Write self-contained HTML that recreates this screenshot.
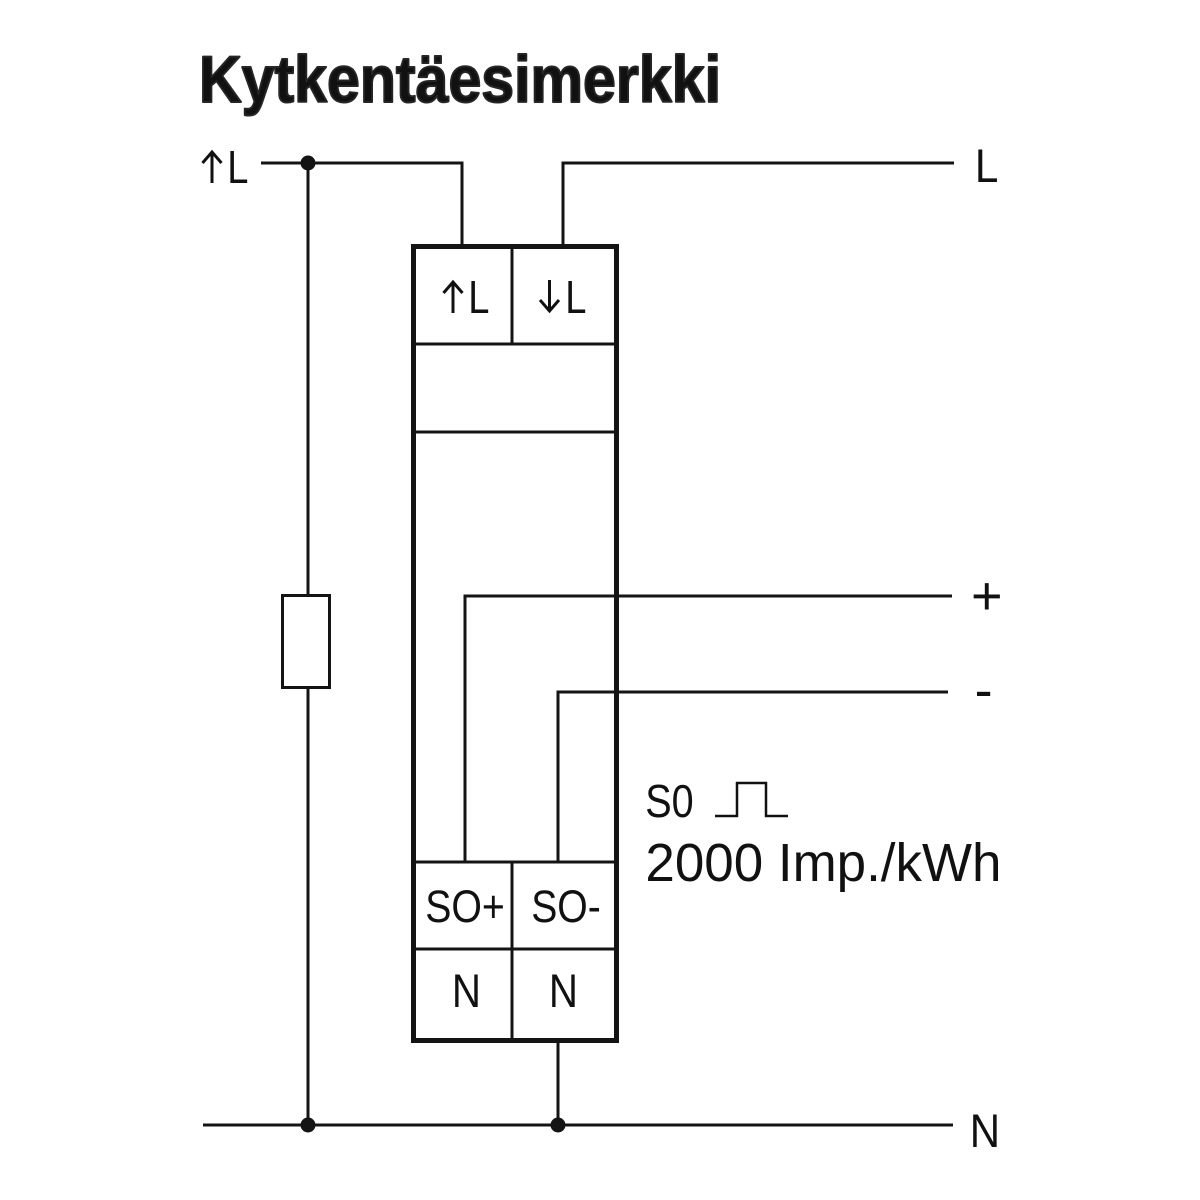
<!DOCTYPE html>
<html>
<head>
<meta charset="utf-8">
<style>
  html, body { margin: 0; padding: 0; background: #ffffff; }
  body { width: 1200px; height: 1200px; overflow: hidden; }
  svg { display: block; }
  .t { font-family: "Liberation Sans", Arial, sans-serif; fill: #111; }
</style>
</head>
<body>
<svg width="1200" height="1200" viewBox="0 0 1200 1200" xmlns="http://www.w3.org/2000/svg">
  <rect x="0" y="0" width="1200" height="1200" fill="#ffffff"/>

  <!-- Title -->
  <text class="t" x="199" y="102" font-size="65.6" font-weight="bold" fill="#262626" stroke="#262626" stroke-width="2" stroke-linejoin="round" textLength="522" lengthAdjust="spacingAndGlyphs">Kytkentäesimerkki</text>

  <g stroke="#141414" stroke-width="3" fill="none" stroke-linecap="butt">
    <!-- top left L wire -->
    <polyline points="261,163 462,163 462,246"/>
    <!-- top right L wire -->
    <polyline points="563,246 563,163 954,163"/>
    <!-- left vertical through resistor -->
    <line x1="308" y1="163" x2="308" y2="1125"/>
    <!-- bottom N line -->
    <line x1="203" y1="1125" x2="953" y2="1125"/>
    <!-- N from box bottom -->
    <line x1="558" y1="1041" x2="558" y2="1125"/>
    <!-- SO+ wire -->
    <polyline points="465,862 465,596 952,596"/>
    <!-- SO- wire -->
    <polyline points="558,862 558,692 948,692"/>
  </g>

  <!-- Resistor -->
  <rect x="282.5" y="595.5" width="47" height="92" fill="#ffffff" stroke="#141414" stroke-width="3"/>

  <!-- Junction dots -->
  <circle cx="308" cy="163" r="7.5" fill="#141414"/>
  <circle cx="308" cy="1125" r="7.5" fill="#141414"/>
  <circle cx="558" cy="1125" r="7.5" fill="#141414"/>

  <!-- Meter box -->
  <g stroke="#141414" fill="none">
    <rect x="413.5" y="246.5" width="203" height="794" stroke-width="5"/>
    <line x1="415" y1="344" x2="615" y2="344" stroke-width="3"/>
    <line x1="512" y1="248" x2="512" y2="344" stroke-width="3"/>
    <line x1="415" y1="432" x2="615" y2="432" stroke-width="3"/>
    <line x1="415" y1="862" x2="615" y2="862" stroke-width="3"/>
    <line x1="512" y1="862" x2="512" y2="1039" stroke-width="3"/>
    <line x1="415" y1="949" x2="615" y2="949" stroke-width="3"/>
  </g>

  <!-- Arrows -->
  <g stroke="#111" stroke-width="3" fill="none" stroke-linecap="butt" stroke-linejoin="miter">
    <line x1="212" y1="152" x2="212" y2="183"/>
    <polyline points="202.5,163 212,152 221.5,163"/>
    <line x1="453" y1="282" x2="453" y2="313"/>
    <polyline points="443.5,293 453,282 462.5,293"/>
    <line x1="549.5" y1="280" x2="549.5" y2="311"/>
    <polyline points="540,300 549.5,311 559,300"/>
  </g>

  <!-- Labels -->
  <text class="t" x="227.2" y="183" font-size="46" textLength="21.2" lengthAdjust="spacingAndGlyphs">L</text>
  <text class="t" x="468.2" y="313" font-size="46" textLength="21.2" lengthAdjust="spacingAndGlyphs">L</text>
  <text class="t" x="565.2" y="313" font-size="46" textLength="21.2" lengthAdjust="spacingAndGlyphs">L</text>
  <text class="t" x="974.9" y="182" font-size="47" textLength="23.5" lengthAdjust="spacingAndGlyphs">L</text>

  <text class="t" x="971" y="614" font-size="54">+</text>
  <text class="t" x="974.6" y="708" font-size="54">-</text>
  <text class="t" x="969.8" y="1147" font-size="47" textLength="30.3" lengthAdjust="spacingAndGlyphs">N</text>

  <text class="t" x="425.2" y="922" font-size="45" textLength="79.6" lengthAdjust="spacingAndGlyphs">SO+</text>
  <text class="t" x="531.2" y="922" font-size="45" textLength="69.6" lengthAdjust="spacingAndGlyphs">SO-</text>
  <text class="t" x="451.9" y="1007" font-size="47" textLength="29.1" lengthAdjust="spacingAndGlyphs">N</text>
  <text class="t" x="548.9" y="1007" font-size="47" textLength="29.1" lengthAdjust="spacingAndGlyphs">N</text>

  <text class="t" x="645.2" y="817" font-size="46" textLength="48.4" lengthAdjust="spacingAndGlyphs">S0</text>
  <polyline points="715,816 737,816 737,783 766,783 766,816 788,816" fill="none" stroke="#111" stroke-width="2.5"/>
  <text class="t" x="645.4" y="881" font-size="54" textLength="356" lengthAdjust="spacingAndGlyphs">2000 Imp./kWh</text>
</svg>
</body>
</html>
